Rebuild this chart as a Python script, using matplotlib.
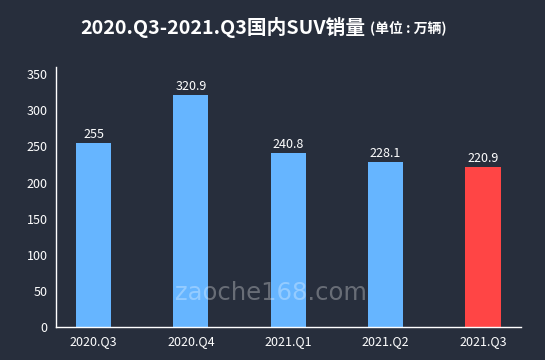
import matplotlib.pyplot as plt

plt.rcParams['font.family'] = ['Noto Sans CJK SC', 'DejaVu Sans']

# du lieu
quarters = ['2020.Q3', '2020.Q4', '2021.Q1', '2021.Q2', '2021.Q3']
sales = [255, 320.9, 240.8, 228.1, 220.9]
labels = ['255', '320.9', '240.8', '228.1', '220.9']
colors = ['#66b5ff', '#66b5ff', '#66b5ff', '#66b5ff', '#ff4545']
yticks = [0, 50, 100, 150, 200, 250, 300, 350]

bg = '#272e3c'
fig = plt.figure(figsize=(5.45, 3.6), dpi=100, facecolor=bg)
ax = fig.add_axes([56/545, 1 - 327/360, 465/545, 260/360], facecolor=bg)

x = range(len(quarters))
ax.bar(x, sales, width=0.36, color=colors, zorder=2)
for i, v in enumerate(sales):
    ax.text(i, v + 3, labels[i], ha='center', va='bottom', color='white', fontsize=9)

ax.set_xlim(-0.385, 4.39)
ax.set_ylim(0, 360)
ax.set_yticks(yticks)
ax.set_xticks(list(x))
ax.set_xticklabels(quarters)
ax.tick_params(colors='white', labelsize=9, length=0, pad=6)
for s in ['top', 'right']:
    ax.spines[s].set_visible(False)
for s in ['left', 'bottom']:
    ax.spines[s].set_color('white')
    ax.spines[s].set_linewidth(1)

# watermark
fig.text(0.497, 1 - 293/360, 'zaoche168.com', ha='center', va='center',
         color='white', alpha=0.3, fontsize=17.5, family=['DejaVu Sans'], zorder=5)

# tieu de
fig.text(80/545, 1 - 27/360, '2020.Q3-2021.Q3国内SUV销量', ha='left', va='center',
         color='white', fontsize=14.2, fontweight='bold')
fig.text(370/545, 1 - 28/360, '(单位 : 万辆)', ha='left', va='center',
         color='white', fontsize=10, fontweight='bold')

plt.savefig('out.png', facecolor=bg)
